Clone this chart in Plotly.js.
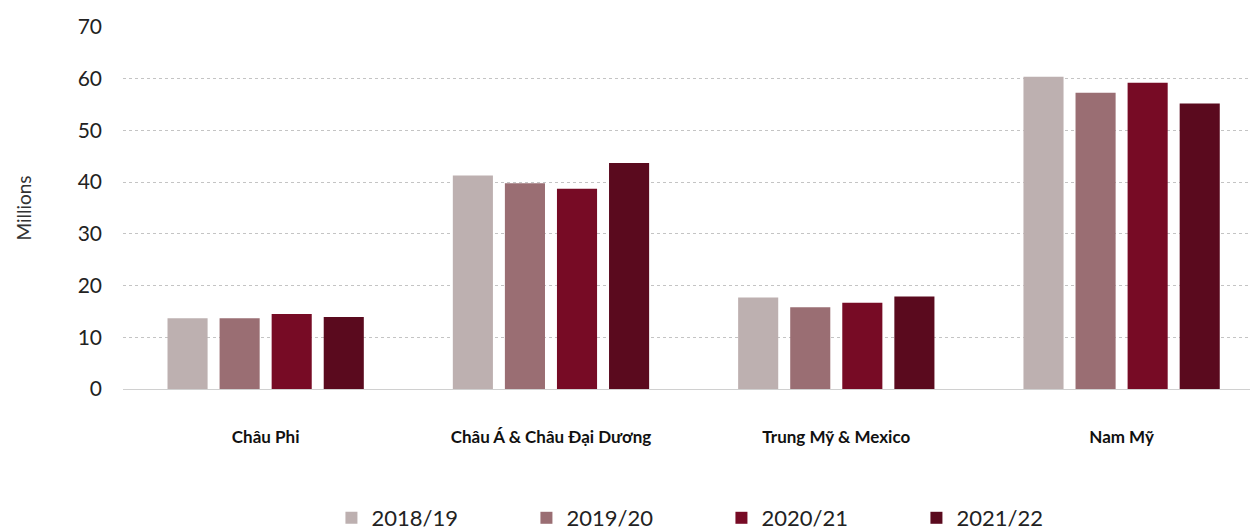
<!DOCTYPE html>
<html>
<head>
<meta charset="utf-8">
<script src="https://cdn.plot.ly/plotly-3.0.1.min.js"></script>
<style>html,body{margin:0;padding:0;background:#fff;}#chart{width:1256px;height:531px;}</style>
</head>
<body>
<div id="chart"></div>
<script>
const categories = ["Châu Phi", "Châu Á & Châu Đại Dương", "Trung Mỹ & Mexico", "Nam Mỹ"];
const seriesNames = ["2018/19", "2019/20", "2020/21", "2021/22"];
const v2018 = [13.7, 41.3, 17.7, 60.4];
const v2019 = [13.7, 39.8, 15.8, 57.3];
const v2020 = [14.5, 38.7, 16.7, 59.2];
const v2021 = [13.9, 43.7, 17.9, 55.2];
const colors = ["#bdb0b0", "#9a6e73", "#770b25", "#5a0a1e"];
const values = [v2018, v2019, v2020, v2021];

const font = "Lato, 'Open Sans', sans-serif";
const traces = values.map((v, i) => ({
  type: "bar",
  name: seriesNames[i],
  x: categories,
  y: v,
  marker: {color: colors[i]},
  hoverinfo: "x+y+name"
}));

const layout = {
  width: 1256, height: 531,
  margin: {l: 123, r: 6, t: 27, b: 142, autoexpand: false},
  paper_bgcolor: "#fff", plot_bgcolor: "#fff",
  barmode: "group",
  bargap: 0.27,
  bargroupgap: 0.23,
  font: {family: font, color: "#222"},
  xaxis: {
    range: [-0.5, 3.45],
    showgrid: false,
    showline: true, linecolor: "#d0d0d0", linewidth: 1,
    ticks: "outside", ticklen: 33, tickcolor: "rgba(0,0,0,0)",
    tickfont: {size: 17, family: font, color: "#111", weight: "bold"},
    zeroline: false, automargin: false
  },
  yaxis: {
    range: [0, 70],
    dtick: 10,
    showgrid: true, gridcolor: "#c4c4c4", griddash: "dot", gridwidth: 1,
    zeroline: false, automargin: false,
    ticks: "", ticklabelstandoff: 20,
    tickfont: {size: 21, family: font, color: "#222"},
    title: {text: "Millions", font: {size: 19, family: font, color: "#333"}, standoff: 40}
  },
  legend: {
    orientation: "h",
    x: 0.531, xanchor: "center",
    yref: "container",
    y: 0.0245, yanchor: "middle",
    font: {size: 22, family: font, color: "#222"},
    entrywidth: 150, entrywidthmode: "pixels",
    itemwidth: 30,
    traceorder: "normal"
  },
  showlegend: true
};

Plotly.newPlot("chart", traces, layout, {displayModeBar: false, staticPlot: true});
</script>
</body>
</html>
